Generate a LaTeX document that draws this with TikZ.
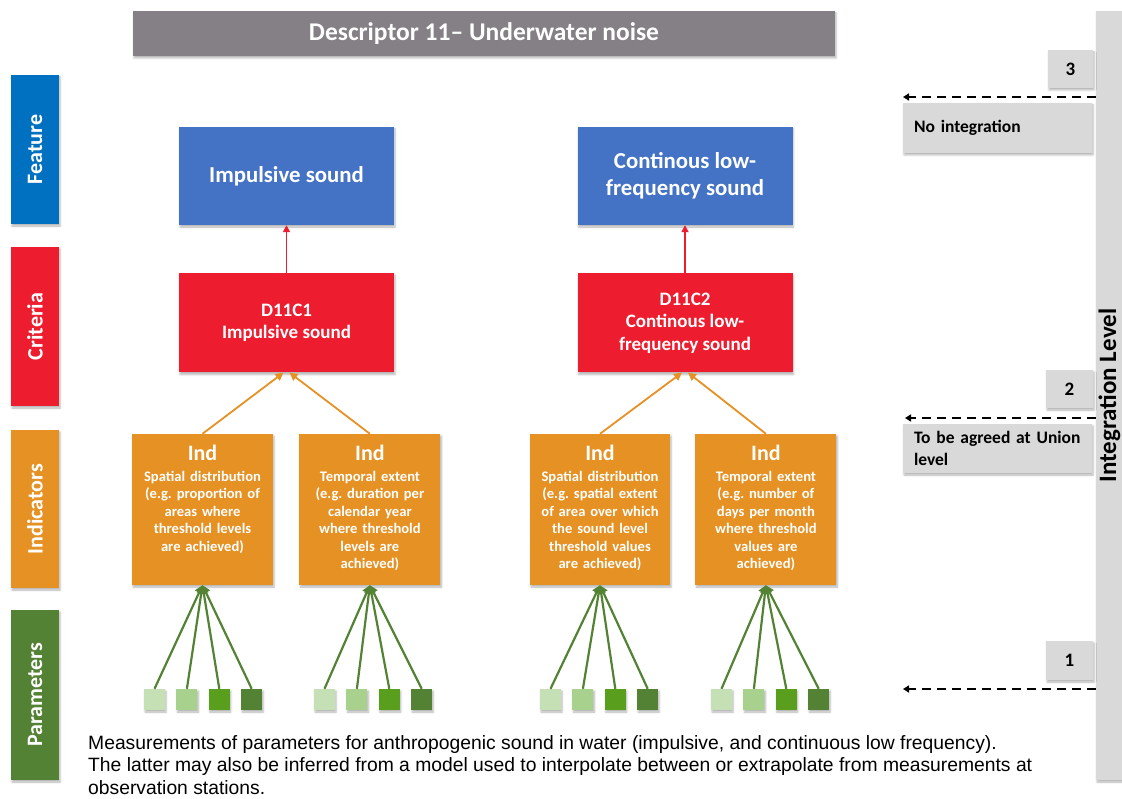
\documentclass[tikz,border=0pt]{standalone}
\usepackage{fontspec}
\setmainfont{Carlito}
\newfontfamily\notefont{Liberation Sans}
\usepackage{xcolor}
\usepackage{tikz}
\usetikzlibrary{positioning,arrows.meta,shadows.blur}
\definecolor{titlegray}{RGB}{133,127,134}
\definecolor{featureblue}{RGB}{0,112,192}
\definecolor{boxblue}{RGB}{68,114,196}
\definecolor{critred}{RGB}{237,28,46}
\definecolor{indorange}{RGB}{229,145,35}
\definecolor{paramgreen}{RGB}{84,130,53}
\definecolor{parA}{RGB}{197,224,180}
\definecolor{parB}{RGB}{169,209,142}
\definecolor{parC}{RGB}{89,159,29}
\definecolor{parD}{RGB}{84,130,53}
\definecolor{levelgray}{RGB}{217,217,217}
\frenchspacing

\begin{document}
\begin{tikzpicture}[x=1pt, y=-1pt, node distance=11pt,
  shade/.style={blur shadow={shadow xshift=1pt, shadow yshift=-2pt, shadow blur radius=2pt, shadow opacity=30}},
  sidebox/.style={shade, minimum width=48pt, inner sep=0pt, text=white, font=\fontsize{22}{26}\selectfont\bfseries},
  bigbox/.style={shade, minimum width=215pt, text=white, align=center},
  indbox/.style={shade, fill=indorange, minimum width=141pt, minimum height=151pt},
  indtext/.style={anchor=north, inner sep=0pt, text width=141pt, align=center, text=white, font=\fontsize{14.6}{17.5}\selectfont\bfseries},
  param/.style={shade, minimum size=21pt, inner sep=0pt},
  paramarrow/.style={-{Triangle[length=8pt,width=9pt]}, line width=2.2pt, paramgreen},
  critarrow/.style={-{Triangle[length=8pt,width=8pt]}, line width=1.8pt, indorange},
  levelbox/.style={shade, fill=levelgray, font=\fontsize{17.5}{21.5}\selectfont\bfseries},
  levelarrow/.style={-{Triangle[length=6pt,width=7pt]}, line width=1.8pt, dash pattern=on 9pt off 6pt}]
\useasboundingbox (0,0) rectangle (1122,799);

% title
\node[shade, fill=titlegray, minimum width=702pt, minimum height=45pt, text=white, font=\fontsize{25.5}{30}\selectfont\bfseries] (title) at (484,33.5) {Descriptor 11-- Underwater noise};

% left column
\node[sidebox, fill=featureblue, minimum height=149pt] (sfeat) at (35,149.5) {\rotatebox{90}{Feature}};
\node[sidebox, fill=critred, minimum height=159pt] (scrit) at (35,326.5) {\rotatebox{90}{Criteria}};
\node[sidebox, fill=indorange, minimum height=158pt] (sind) at (35,509) {\rotatebox{90}{Indicators}};
\node[sidebox, fill=paramgreen, minimum height=170pt] (spar) at (35,695) {\rotatebox{90}{Parameters}};

% features and criteria
\node[bigbox, fill=boxblue, minimum height=98pt, font=\fontsize{22.8}{27}\selectfont\bfseries] (feat1) at (286.5,176) {Impulsive sound};
\node[bigbox, fill=boxblue, minimum height=98pt, font=\fontsize{22.8}{27}\selectfont\bfseries] (feat2) at (685,176) {Continous low-\\frequency sound};
\node[bigbox, fill=critred, minimum height=99pt, font=\fontsize{19}{22.5}\selectfont\bfseries, below=48pt of feat1] (crit1) {D11C1\\Impulsive sound};
\node[bigbox, fill=critred, minimum height=99pt, font=\fontsize{19}{22.5}\selectfont\bfseries, below=48pt of feat2] (crit2) {D11C2\\Continous low-\\frequency sound};

\draw[-{Triangle[length=7pt,width=7pt]}, line width=1.6pt, critred] (crit1.north) -- (feat1.south);
\draw[-{Triangle[length=7pt,width=7pt]}, line width=1.6pt, critred] (crit2.north) -- (feat2.south);

% indicators
\node[indbox] (ind1) at (202.5,509.5) {};
\node[indbox, right=26pt of ind1] (ind2) {};
\node[indbox, minimum width=140pt] (ind3) at (600,509.5) {};
\node[indbox, right=25pt of ind3] (ind4) {};

\node[indtext] (ind1t) at ([yshift=-11pt]ind1.north) {{\fontsize{22}{26}\selectfont Ind}\\[3.5pt]Spatial distribution\\(e.g. proportion of\\areas where\\threshold levels\\are achieved)};
\node[indtext] (ind2t) at ([yshift=-11pt]ind2.north) {{\fontsize{22}{26}\selectfont Ind}\\[3.5pt]Temporal extent\\(e.g. duration per\\calendar year\\where threshold\\levels are\\achieved)};
\node[indtext] (ind3t) at ([yshift=-11pt]ind3.north) {{\fontsize{22}{26}\selectfont Ind}\\[3.5pt]Spatial distribution\\(e.g. spatial extent\\of area over which\\the sound level\\threshold values\\are achieved)};
\node[indtext] (ind4t) at ([yshift=-11pt]ind4.north) {{\fontsize{22}{26}\selectfont Ind}\\[3.5pt]Temporal extent\\(e.g. number of\\days per month\\where threshold\\values are\\achieved)};

\draw[critarrow] (ind1.north) -- ([xshift=-3pt]crit1.south);
\draw[critarrow] (ind2.north) -- ([xshift=3pt]crit1.south);
\draw[critarrow] (ind3.north) -- ([xshift=-3pt]crit2.south);
\draw[critarrow] (ind4.north) -- ([xshift=3pt]crit2.south);

% parameters
\node[param, fill=parA] (p11) at (154.5,699.5) {};
\node[param, fill=parB, right=of p11] (p12) {};
\node[param, fill=parC, right=of p12] (p13) {};
\node[param, fill=parD, right=of p13] (p14) {};
\node[param, fill=parA] (p21) at (324.5,699.5) {};
\node[param, fill=parB, right=of p21] (p22) {};
\node[param, fill=parC, right=of p22] (p23) {};
\node[param, fill=parD, right=of p23] (p24) {};
\node[param, fill=parA] (p31) at (550.5,699.5) {};
\node[param, fill=parB, right=of p31] (p32) {};
\node[param, fill=parC, right=of p32] (p33) {};
\node[param, fill=parD, right=of p33] (p34) {};
\node[param, fill=parA] (p41) at (721.5,699.5) {};
\node[param, fill=parB, right=of p41] (p42) {};
\node[param, fill=parC, right=of p42] (p43) {};
\node[param, fill=parD, right=of p43] (p44) {};

\draw[paramarrow] (p11.north) -- (ind1.south);
\draw[paramarrow] (p12.north) -- (ind1.south);
\draw[paramarrow] (p13.north) -- (ind1.south);
\draw[paramarrow] (p14.north) -- (ind1.south);
\draw[paramarrow] (p21.north) -- (ind2.south);
\draw[paramarrow] (p22.north) -- (ind2.south);
\draw[paramarrow] (p23.north) -- (ind2.south);
\draw[paramarrow] (p24.north) -- (ind2.south);
\draw[paramarrow] (p31.north) -- (ind3.south);
\draw[paramarrow] (p32.north) -- (ind3.south);
\draw[paramarrow] (p33.north) -- (ind3.south);
\draw[paramarrow] (p34.north) -- (ind3.south);
\draw[paramarrow] (p41.north) -- (ind4.south);
\draw[paramarrow] (p42.north) -- (ind4.south);
\draw[paramarrow] (p43.north) -- (ind4.south);
\draw[paramarrow] (p44.north) -- (ind4.south);

\node[anchor=north west, inner sep=0pt, align=left, font=\notefont\fontsize{19.3}{22.5}\selectfont] (note) at (88,735) {Measurements of parameters for anthropogenic sound in water (impulsive, and continuous low frequency).\\The latter may also be inferred from a model used to interpolate between or extrapolate from measurements at\\observation stations.};

% integration levels
\node[shade, fill=levelgray, minimum width=26pt, minimum height=769pt, inner sep=0pt] (bar) at (1109,395.5) {};
\node[font=\fontsize{25}{29}\selectfont\bfseries, rotate=90, inner sep=0pt] (barlab) at ([xshift=0.5pt]bar.center) {Integration Level};

\node[levelbox, minimum width=45pt, minimum height=38pt, font=\fontsize{19}{22}\selectfont\bfseries] (lev3) at (1070.5,69) {3};
\node[levelbox, minimum width=47pt, minimum height=38pt, font=\fontsize{19}{22}\selectfont\bfseries] (lev2) at (1069.5,389) {2};
\node[levelbox, minimum width=47pt, minimum height=39pt, font=\fontsize{19}{22}\selectfont\bfseries] (lev1) at (1069.5,660.5) {1};

\node[levelbox, minimum width=189pt, minimum height=50pt, text width=167pt, inner xsep=11pt, align=left] (noint) at (997.5,128) {No integration};
\node[levelbox, minimum width=189pt, minimum height=49pt, text width=167pt, inner xsep=11pt, align=left] (union) at (997.5,448.5) {To be agreed at Union\\level};

\coordinate (tip3) at (903,97);
\coordinate (tip2) at (905,418);
\coordinate (tip1) at (903,689);
\draw[levelarrow] (bar.west |- tip3) -- (tip3);
\draw[levelarrow] (bar.west |- tip2) -- (tip2);
\draw[levelarrow] (bar.west |- tip1) -- (tip1);

\end{tikzpicture}
\end{document}
